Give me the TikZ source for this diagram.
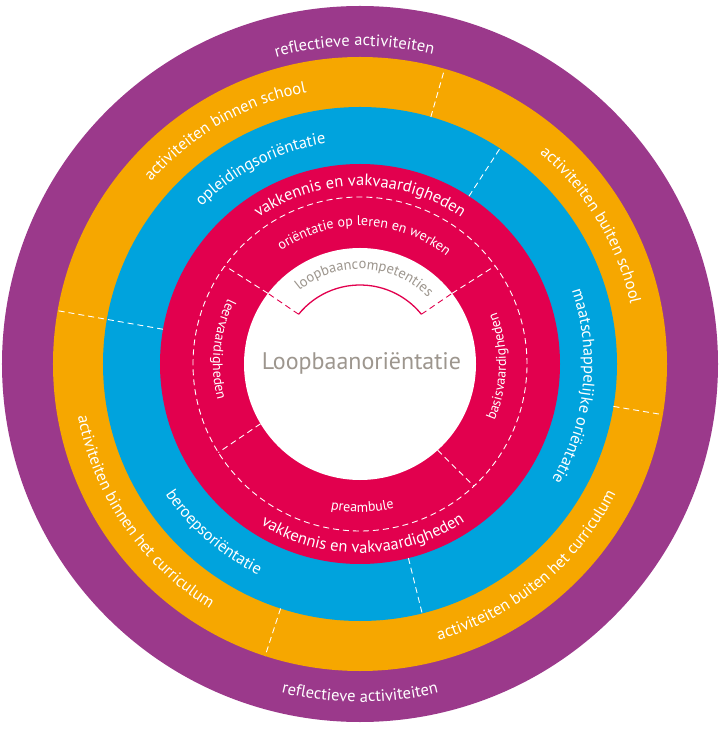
\documentclass[tikz,border=0pt]{standalone}
\usepackage{fontspec}
\setmainfont{PT Sans}
\usepackage{tikz}
\usetikzlibrary{decorations.text}

\definecolor{ringpurple}{RGB}{155,57,139}
\definecolor{ringorange}{RGB}{246,167,0}
\definecolor{ringblue}{RGB}{0,163,221}
\definecolor{ringred}{RGB}{226,0,78}
\definecolor{titlegray}{RGB}{157,150,142}
\newcommand{\ringfont}{\fontsize{16.5}{18}\selectfont}
\newcommand{\innerfont}{\fontsize{14}{16}\selectfont}

\begin{document}
\begin{tikzpicture}[
  ringtext/.style={decorate,decoration={text along path,text align=center,text={|\ringfont\color{white}|#1}}},
  innertext/.style={decorate,decoration={text along path,text align=center,text={|\innerfont\color{white}|#1}}},
  graytext/.style={decorate,decoration={text along path,text align=center,text={|\fontsize{14.5}{16}\selectfont\color{titlegray}|#1}}},
  divider/.style={white,line width=0.9pt,dash pattern=on 6pt off 4pt}]
		\useasboundingbox (-360pt,-366pt) rectangle (360pt,364pt);
		% rings
		\fill[ringpurple] (0,0) circle[radius=358pt];
		\fill[ringorange] (0,0) circle[radius=307pt];
		\fill[ringblue] (0,0) circle[radius=257pt];
		\fill[ringred] (0,0) circle[radius=200pt];
		\fill[white] (0,0) circle[radius=116pt];
		\draw[divider] (0,0) circle[radius=167pt];
		% dividers
		\draw[divider] (74:257pt) -- (74:307pt);
		\draw[divider] (-9.5:257pt) -- (-9.5:307pt);
		\draw[divider] (252:257pt) -- (252:307pt);
		\draw[divider] (170:200pt) -- (170:307pt);
		\draw[divider] (57:200pt) -- (57:257pt);
		\draw[divider] (-76:200pt) -- (-76:257pt);
		\draw[divider] (142.5:116pt) -- (144:166pt);
		\draw[divider] (37.5:116pt) -- (36:166pt);
		\draw[divider] (211:116pt) -- (212:167pt);
		\draw[divider] (312:116pt) -- (313:167pt);
		\draw[divider,ringred] (141:79pt) -- (142.5:116pt);
		\draw[divider,ringred] (39:79pt) -- (37.5:116pt);
		\draw[ringred,line width=1.3pt] (141:79pt) arc[start angle=141,end angle=39,radius=79pt];
		% texts
		\path[ringtext=reflectieve activiteiten] (151:318pt) arc[start angle=151,end angle=31,radius=318pt];
		\path[ringtext=reflectieve activiteiten] (210:338pt) arc[start angle=210,end angle=330,radius=338pt];
		\path[ringtext=activiteiten binnen school] (175:277pt) arc[start angle=175,end angle=65,radius=277pt];
		\path[ringtext=activiteiten buiten school] (86:277pt) arc[start angle=86,end angle=-24,radius=277pt];
		\path[ringtext=activiteiten buiten het curriculum] (254.5:287pt) arc[start angle=254.5,end angle=364.5,radius=287pt];
		\path[ringtext=activiteiten binnen het curriculum] (159.5:287pt) arc[start angle=159.5,end angle=269.5,radius=287pt];
		\path[ringtext=opleidingsoriëntatie] (167:223pt) arc[start angle=167,end angle=67,radius=223pt];
		\path[ringtext=maatschappelijke oriëntatie] (44:224pt) arc[start angle=44,end angle=-56,radius=224pt];
		\path[ringtext=beroepsoriëntatie] (189:234pt) arc[start angle=189,end angle=269,radius=234pt];
		\path[ringtext=vakkennis en vakvaardigheden] (150:178pt) arc[start angle=150,end angle=30,radius=178pt];
		\path[ringtext=vakkennis en vakvaardigheden] (211:189pt) arc[start angle=211,end angle=331,radius=189pt];
		\path[innertext=oriëntatie op leren en werken] (148:138pt) arc[start angle=148,end angle=28,radius=138pt];
		\path[innertext=basisvaardigheden] (-41:146pt) arc[start angle=-41,end angle=39,radius=146pt];
		\path[innertext=leervaardigheden] (134:147pt) arc[start angle=134,end angle=214,radius=147pt];
		\path[innertext=preambule] (231:148pt) arc[start angle=231,end angle=311,radius=148pt];
		\path[graytext=loopbaancompetenties] (147:95pt) arc[start angle=147,end angle=27,radius=95pt];
		\node[anchor=base,text=titlegray,font=\fontsize{24}{26}\selectfont] (title) at (1.5pt,-6pt) {Loopbaanoriëntatie};
\end{tikzpicture}
\end{document}
